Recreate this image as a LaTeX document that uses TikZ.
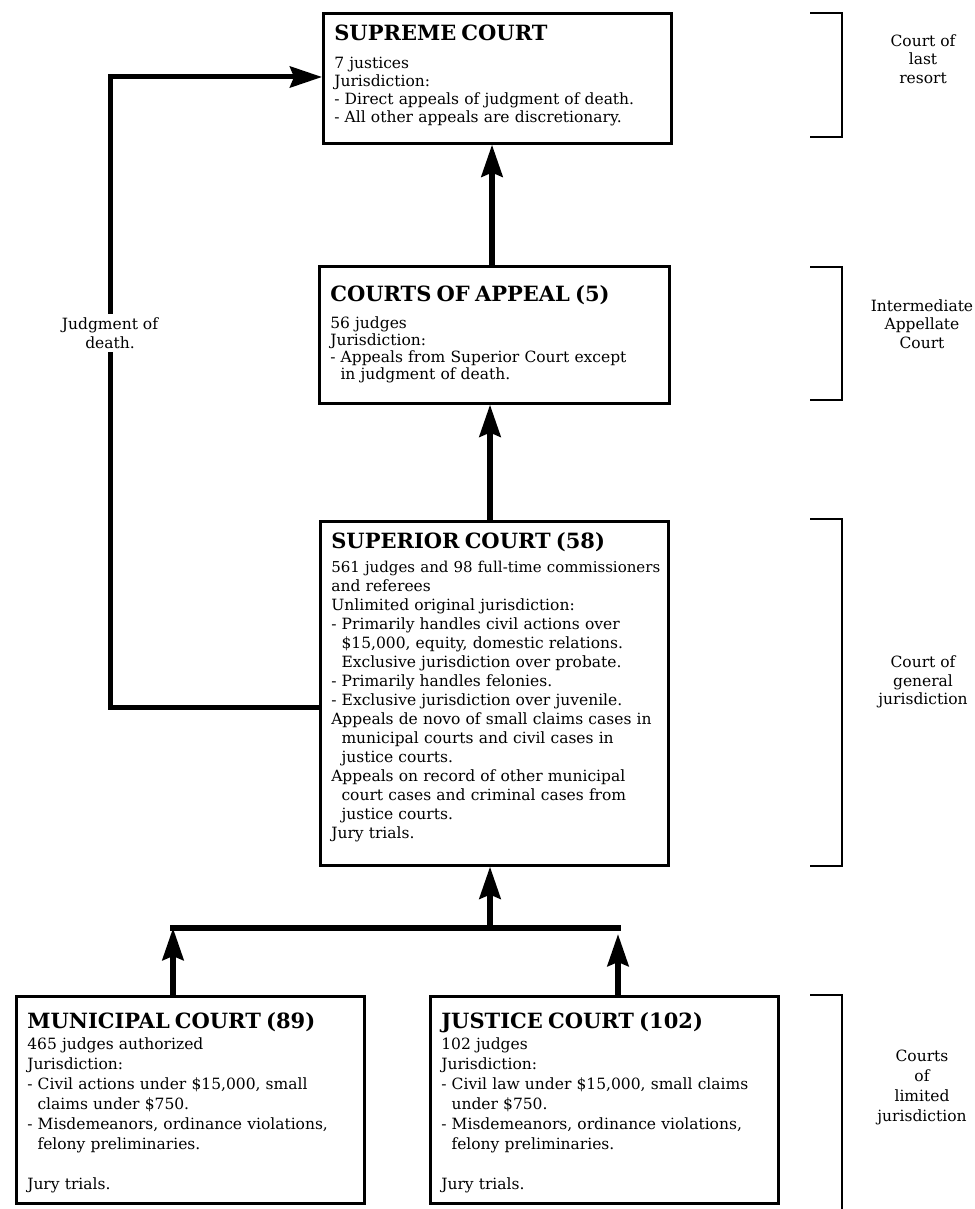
\documentclass[tikz,border=0pt]{standalone}
\usepackage{fontspec}
\setmainfont{DejaVu Serif}
\usetikzlibrary{arrows.meta,calc}
\newcommand{\hgind}{\hspace*{0.66em}}
\newcommand{\ttlfont}{\fontsize{21}{24}\selectfont\bfseries}
\begin{document}
\begin{tikzpicture}[x=1pt,y=-1pt,
  court/.style={draw, line width=2.6pt, anchor=north west, inner xsep=11pt, inner ysep=0pt, align=left, font=\fontsize{15.5}{18}\selectfont},
  conn/.style={line width=6pt},
  arr/.style={line width=6pt, -{Stealth[length=32pt,width=21pt,inset=4pt]}},
  jline/.style={line width=5pt},
  bracket/.style={line width=2.4pt},
  side/.style={align=center, font=\fontsize{15.5}{18.5}\selectfont}
]
\fill[white] (0,0) rectangle (974,1209);
\useasboundingbox (0,0) rectangle (974,1209);

\node[court, text width=326pt, text height=27pt, text depth=103pt] (supreme) at (322,12)
 {{\ttlfont SUPREME COURT\par}\vspace{10pt}%
  7 justices\\
  Jurisdiction:\\
  - Direct appeals of judgment of death.\\
  - All other appeals are discretionary.};

\node[court, text width=328pt, text height=35pt, text depth=102pt, font=\fontsize{15.5}{17}\selectfont] (appeal) at (318,265)
 {{\ttlfont COURTS OF APPEAL (5)\par}\vspace{10pt}%
  56 judges\\
  Jurisdiction:\\
  - Appeals from Superior Court except\\
  \hgind in judgment of death.};

\node[court, text width=326pt, text height=27pt, text depth=317pt, font=\fontsize{15.5}{19}\selectfont] (superior) at (319,520)
 {{\ttlfont SUPERIOR COURT (58)\par}\vspace{5pt}%
  \mbox{\fontsize{15}{19}\selectfont 561 judges and 98 full-time commissioners}\\
  and referees\\
  Unlimited original jurisdiction:\\
  - Primarily handles civil actions over\\
  \hgind\$15,000, equity, domestic relations.\\
  \hgind Exclusive jurisdiction over probate.\\
  - Primarily handles felonies.\\
  - Exclusive jurisdiction over juvenile.\\
  Appeals de novo of small claims cases in\\
  \hgind municipal courts and civil cases in\\
  \hgind justice courts.\\
  Appeals on record of other municipal\\
  \hgind court cases and criminal cases from\\
  \hgind justice courts.\\
  Jury trials.};

\node[court, text width=326pt, text height=32pt, text depth=175pt, font=\fontsize{15.5}{20}\selectfont] (municipal) at (15,995)
 {{\ttlfont MUNICIPAL COURT (89)\par}\vspace{1pt}%
  465 judges authorized\\
  Jurisdiction:\\
  - Civil actions under \$15,000, small\\
  \hgind claims under \$750.\\
  - Misdemeanors, ordinance violations,\\
  \hgind felony preliminaries.\par\vspace{20pt}%
  Jury trials.};

\node[court, text width=326pt, text height=32pt, text depth=175pt, font=\fontsize{15.5}{20}\selectfont] (justice) at (429,995)
 {{\ttlfont JUSTICE COURT (102)\par}\vspace{1pt}%
  102 judges\\
  Jurisdiction:\\
  - Civil law under \$15,000, small claims\\
  \hgind under \$750.\\
  - Misdemeanors, ordinance violations,\\
  \hgind felony preliminaries.\par\vspace{20pt}%
  Jury trials.};

% vertical appeal arrows
\coordinate (ax) at (492,0);
\coordinate (bx) at (490,0);
\draw[arr] (appeal.north -| ax) -- (supreme.south -| ax);
\draw[arr] (superior.north -| bx) -- (appeal.south -| bx);

% junction from lower courts
\coordinate (jl) at (173,928);
\coordinate (jr) at (618,928);
\draw[conn, line cap=rect] (jl) -- (jr);
\draw[arr] (jl -| bx) -- (superior.south -| bx);
\draw[arr] (municipal.north -| jl) -- (jl);
\draw[arr] (justice.north -| jr) -- ($(jr)+(0,6)$);

% judgment of death
\node[side, inner sep=4pt] (jd) at (110,333) {Judgment of\\death.};
\coordinate (jt) at (110,77);
\draw[jline] ($(superior.north west)+(0,187)$) -| (jd.south);
\draw[jline, -{Stealth[length=32pt,width=21pt,inset=4pt]}] (jd.north) -- (jt) -- (jt -| supreme.west);

% brackets and level labels
\draw[bracket] (810,13) -| (842,137) -- (810,137);
\draw[bracket] (810,267) -| (842,400) -- (810,400);
\draw[bracket] (810,519) -| (842,866) -- (810,866);
\draw[bracket] (810,995) -| (842,1209);

\node[side] (l1) at (923,59) {Court of\\last\\resort};
\node[side] (l2) at (922,324) {Intermediate\\Appellate\\Court};
\node[side] (l3) at (923,682) {Court of\\general\\jurisdiction};
\node[side, font=\fontsize{15.5}{20}\selectfont] (l4) at (922,1087) {Courts\\of\\limited\\jurisdiction};
\end{tikzpicture}
\end{document}
